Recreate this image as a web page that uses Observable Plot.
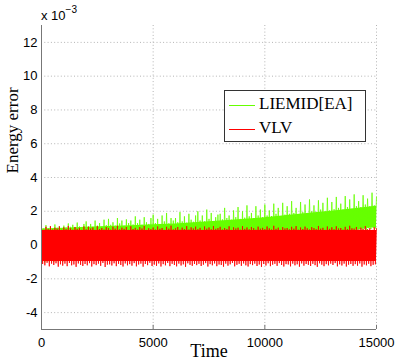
<!DOCTYPE html>
<html>
<head>
<meta charset="utf-8">
<script src="https://cdn.jsdelivr.net/npm/d3@7"></script>
<script src="https://cdn.jsdelivr.net/npm/@observablehq/plot@0.6"></script>
<style>
body{margin:0;background:#fff;}
#wrap{position:relative;width:399px;height:364px;overflow:hidden;}
#wrap > svg{display:block;}
.lg{position:absolute;left:224px;top:90px;width:142px;height:52px;box-sizing:border-box;border:1px solid #333;background:#fff;}
.lg .row{position:absolute;left:0;width:140px;height:20px;}
.lg .row .ln{position:absolute;left:4px;top:10px;width:26px;height:1px;}
.lg .row span{position:absolute;left:34px;top:-1px;font-family:"Liberation Serif",serif;font-size:17px;color:#000;white-space:nowrap;}
.exp{position:absolute;left:41px;top:6px;font-family:"Liberation Sans",Arial,sans-serif;font-size:13px;color:#000;}
.exp sup{font-size:10px;position:relative;top:-2px;}
</style>
</head>
<body>
<div id="wrap"></div>
<script>
// Energy error values are in units of 1e-3
const xTicks = [0, 5000, 10000, 15000];
const yTicks = [-4, -2, 0, 2, 4, 6, 8, 10, 12];
const seriesNames = ["LIEMID[EA]", "VLV"];
const seriesColors = ["#66ff00", "#ff0000"];

// samples every 50 time units (0..15000)
const greenVals = [
 1.05,-0.95,0.98,-1.02,1.18,-0.9,1.0,-0.98,1.1,-0.93,0.96,-1.0,1.22,-0.88,1.03,-0.96,1.12,-0.92,0.99,-0.99,
 1.15,-0.85,1.04,-0.9,1.28,-0.82,1.08,-0.88,1.2,-0.86,1.02,-0.8,1.33,-0.9,1.1,-0.84,1.06,-0.87,1.25,-0.83,
 1.4,-0.75,1.1,-0.8,1.25,-0.72,1.08,-0.78,1.45,-0.74,1.15,-0.7,1.3,-0.79,1.09,-0.73,1.5,-0.76,1.18,-0.71,
 1.55,-0.65,1.2,-0.7,1.35,-0.62,1.15,-0.68,1.6,-0.64,1.28,-0.6,1.45,-0.69,1.14,-0.63,1.52,-0.66,1.3,-0.61,
 1.45,-0.55,1.22,-0.6,1.7,-0.52,1.3,-0.58,1.5,-0.54,1.2,-0.5,1.65,-0.59,1.35,-0.53,1.25,-0.56,1.6,-0.51,
 1.8,-0.45,1.3,-0.5,1.55,-0.42,1.25,-0.48,1.75,-0.44,1.4,-0.4,1.9,-0.49,1.28,-0.43,1.6,-0.46,1.45,-0.41,
 1.6,-0.35,1.35,-0.4,1.95,-0.32,1.4,-0.38,1.7,-0.34,1.32,-0.3,1.85,-0.39,1.5,-0.33,1.38,-0.36,1.75,-0.31,
 2.0,-0.25,1.45,-0.3,1.75,-0.22,1.4,-0.28,2.1,-0.24,1.55,-0.2,1.9,-0.29,1.42,-0.23,1.65,-0.26,1.8,-0.21,
 1.85,-0.15,1.52,-0.2,2.2,-0.12,1.6,-0.18,1.75,-0.14,1.5,-0.1,2.05,-0.19,1.65,-0.13,2.25,-0.16,1.55,-0.11,
 2.0,-0.02,1.62,-0.06,2.35,0.0,1.7,-0.04,1.9,0.02,1.6,0.04,2.3,-0.03,1.75,0.05,2.1,0.01,1.65,0.06,
 2.4,0.12,1.75,0.08,2.05,0.15,1.72,0.1,2.45,0.18,1.85,0.14,2.2,0.2,1.7,0.16,2.5,0.22,1.8,0.19,
 2.3,0.3,1.85,0.26,2.6,0.34,1.9,0.3,2.2,0.38,1.83,0.33,2.55,0.4,1.95,0.36,2.4,0.44,1.88,0.4,
 2.7,0.5,2.0,0.46,2.35,0.55,1.97,0.5,2.65,0.58,2.1,0.52,2.5,0.6,2.0,0.56,2.8,0.64,2.05,0.6,
 2.55,0.68,2.12,0.64,2.85,0.72,2.2,0.68,2.45,0.76,2.1,0.7,2.9,0.8,2.25,0.75,2.7,0.84,2.15,0.8,
 3.0,0.88,2.3,0.84,2.6,0.92,2.25,0.88,2.95,0.96,2.4,0.9,2.75,1.0,2.3,0.95,3.1,1.02,2.35,0.98,
 2.85
];
const redVals = [
 1.0,-1.12,0.9,-1.2,1.08,-1.05,0.95,-1.26,1.12,-1.1,0.92,-1.18,1.03,-1.08,0.97,-1.28,1.1,-1.14,0.9,-1.22,
 1.05,-1.1,0.94,-1.25,1.13,-1.06,0.99,-1.2,0.91,-1.15,1.07,-1.29,0.96,-1.09,1.02,-1.17,0.9,-1.24,1.1,-1.12,
 0.93,-1.2,1.08,-1.07,0.98,-1.27,1.04,-1.13,0.9,-1.19,1.12,-1.1,0.95,-1.23,1.01,-1.06,0.92,-1.3,1.06,-1.16,
 1.0,-1.14,0.91,-1.21,1.09,-1.08,0.97,-1.25,1.14,-1.11,0.93,-1.18,1.03,-1.27,0.96,-1.09,1.07,-1.2,0.9,-1.13,
 1.11,-1.22,0.95,-1.07,1.02,-1.26,0.92,-1.15,1.06,-1.1,0.98,-1.28,1.13,-1.12,0.9,-1.19,1.0,-1.05,0.94,-1.24,
 1.04,-1.16,0.92,-1.23,1.1,-1.09,0.96,-1.27,1.01,-1.13,0.9,-1.2,1.08,-1.06,0.97,-1.25,1.15,-1.11,0.93,-1.18,
 0.99,-1.26,1.07,-1.1,0.91,-1.21,1.03,-1.14,0.95,-1.29,1.12,-1.08,0.92,-1.17,1.05,-1.23,0.98,-1.12,1.09,-1.19,
 0.94,-1.11,1.02,-1.24,0.9,-1.16,1.1,-1.07,0.97,-1.27,1.04,-1.13,0.93,-1.2,1.13,-1.09,0.96,-1.25,1.0,-1.15,
 1.08,-1.18,0.92,-1.28,1.01,-1.1,0.95,-1.22,1.11,-1.14,0.9,-1.06,1.05,-1.26,0.98,-1.17,1.03,-1.11,0.91,-1.23,
 1.12,-1.09,0.96,-1.2,1.04,-1.27,0.93,-1.13,1.07,-1.19,1.0,-1.1,0.91,-1.24,1.09,-1.15,0.97,-1.29,1.02,-1.12,
 0.94,-1.21,1.1,-1.08,0.99,-1.25,0.92,-1.16,1.14,-1.11,0.96,-1.23,1.03,-1.07,0.9,-1.18,1.06,-1.27,0.98,-1.13,
 1.01,-1.15,0.93,-1.26,1.08,-1.1,0.97,-1.2,1.12,-1.14,0.91,-1.28,1.04,-1.09,0.95,-1.22,1.09,-1.12,0.99,-1.17,
 0.92,-1.24,1.06,-1.11,1.0,-1.19,0.94,-1.29,1.13,-1.08,0.97,-1.16,1.02,-1.25,0.9,-1.13,1.1,-1.2,0.96,-1.1,
 1.05,-1.18,0.93,-1.07,1.11,-1.26,0.98,-1.14,1.01,-1.21,0.91,-1.1,1.08,-1.27,0.95,-1.16,1.14,-1.12,0.99,-1.23,
 0.97,-1.13,1.07,-1.22,0.92,-1.09,1.03,-1.28,0.96,-1.15,1.12,-1.2,0.94,-1.11,1.0,-1.25,0.9,-1.17,1.06,-1.14,
 0.98
];
const sampleTimes = d3.range(0, 15001, 50);

// dense core of each band, every 1000 time units
const coreTimes = [0,1000,2000,3000,4000,5000,6000,7000,8000,9000,10000,11000,12000,13000,14000,15000];
const greenCoreTop = [0.95,1.0,1.05,1.1,1.15,1.2,1.25,1.33,1.42,1.52,1.62,1.75,1.88,2.0,2.15,2.3];
const greenCoreBot = [-0.95,-0.85,-0.75,-0.65,-0.55,-0.45,-0.35,-0.25,-0.15,-0.02,0.12,0.3,0.5,0.68,0.88,1.05];
const redCoreTop = [0.86,0.86,0.86,0.86,0.86,0.86,0.86,0.86,0.86,0.86,0.86,0.86,0.86,0.86,0.86,0.86];
const redCoreBot = [-0.98,-0.98,-0.98,-0.98,-0.98,-0.98,-0.98,-0.98,-0.98,-0.98,-0.98,-0.98,-0.98,-0.98,-0.98,-0.98];

const green = sampleTimes.map((t, i) => ({t, v: greenVals[i]}));
const red = sampleTimes.map((t, i) => ({t, v: redVals[i]}));
const core = coreTimes.map((t, i) => ({t, gt: greenCoreTop[i], gb: greenCoreBot[i], rt: redCoreTop[i], rb: redCoreBot[i]}));

const gridStyle = {stroke: "#b4b4b4", strokeDasharray: "1,2.3", strokeWidth: 1};

const chart = Plot.plot({
  width: 399,
  height: 364,
  marginTop: 25,
  marginRight: 23,
  marginBottom: 35,
  marginLeft: 41,
  x: {domain: [0, 15000]},
  y: {domain: [-5, 13]},
  style: {fontFamily: "'Liberation Sans', Arial, sans-serif", fontSize: "13px", color: "#000", background: "#fff"},
  marks: [
    Plot.ruleY(yTicks, gridStyle),
    Plot.ruleX(xTicks.filter(d => d > 0), gridStyle),
    Plot.areaY(core, {x: "t", y1: "gb", y2: "gt", fill: seriesColors[0]}),
    Plot.lineY(green, {x: "t", y: "v", stroke: seriesColors[0], strokeWidth: 0.8}),
    Plot.areaY(core, {x: "t", y1: "rb", y2: "rt", fill: seriesColors[1]}),
    Plot.lineY(red, {x: "t", y: "v", stroke: seriesColors[1], strokeWidth: 0.8}),
    Plot.ruleX([0], {stroke: "#777", strokeWidth: 1}),
    Plot.ruleY([-5], {stroke: "#777", strokeWidth: 1}),
    Plot.ruleX(xTicks.filter(d => d > 0), {y1: -5, y2: -4.75, stroke: "#777"}),
    Plot.axisX({ticks: xTicks, tickSize: 0, tickPadding: 8, tickFormat: d => String(d), label: null, fontSize: 13}),
    Plot.axisY({ticks: yTicks, tickSize: 0, tickPadding: 4, tickFormat: d => String(d), label: null, fontSize: 13}),
    Plot.text(["Time"], {frameAnchor: "bottom", dy: 27, fontFamily: "'Liberation Serif', serif", fontSize: 18}),
    Plot.text(["Energy error"], {frameAnchor: "left", dx: -29, dy: -4, rotate: -90, fontFamily: "'Liberation Serif', serif", fontSize: 17})
  ]
});

const wrap = document.getElementById("wrap");
wrap.appendChild(chart);

const exp = document.createElement("div");
exp.className = "exp";
exp.innerHTML = "x 10<sup>&minus;3</sup>";
wrap.appendChild(exp);

const lg = document.createElement("div");
lg.className = "lg";
seriesNames.forEach((name, i) => {
  const row = document.createElement("div");
  row.className = "row";
  row.style.top = (4 + i * 24) + "px";
  row.innerHTML = `<div class="ln" style="background:${seriesColors[i]}"></div><span>${name}</span>`;
  lg.appendChild(row);
});
wrap.appendChild(lg);
</script>
</body>
</html>
